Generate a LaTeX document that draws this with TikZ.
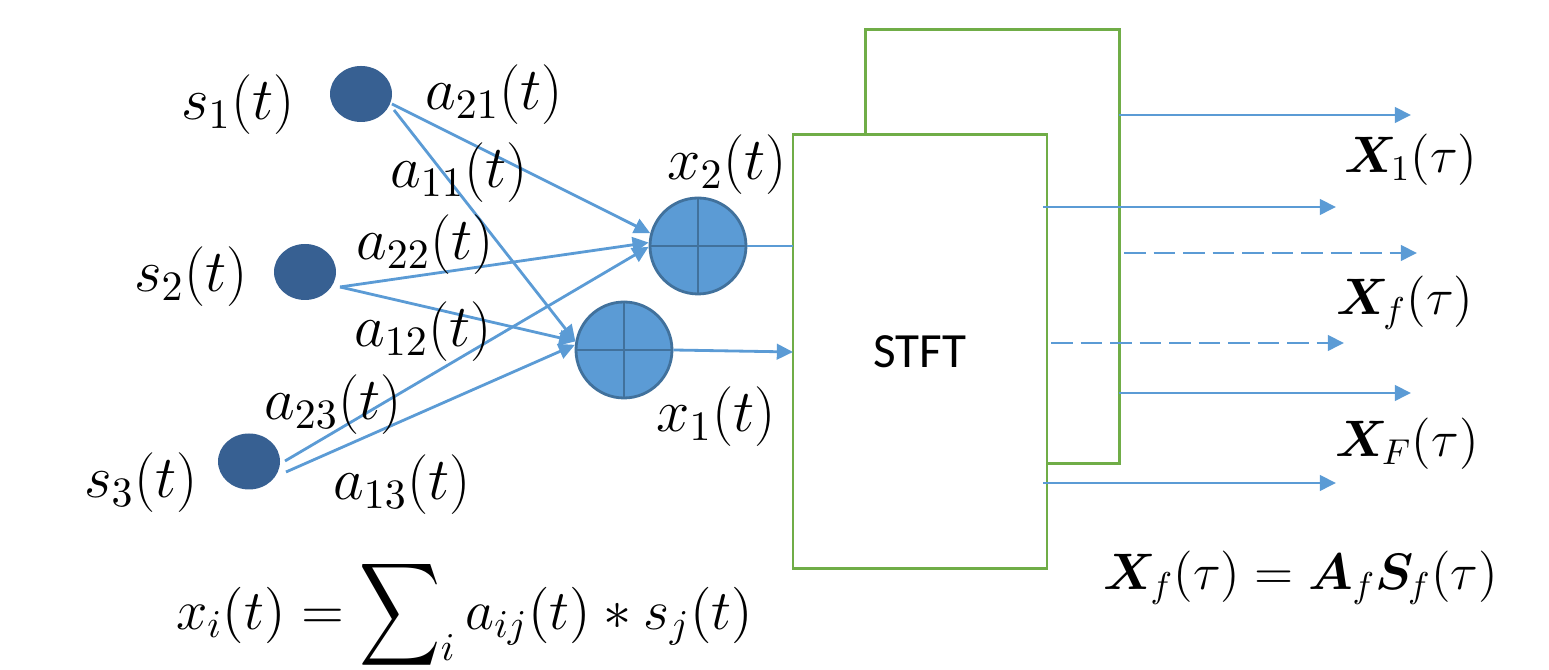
\documentclass[tikz,border=0pt]{standalone}
\usepackage{fix-cm}
\usepackage{amsmath,amssymb}
\usepackage{fontspec}
\usepackage{xcolor}
\usepackage{tikz}
\usetikzlibrary{arrows.meta,shapes.geometric}
\newfontfamily\labelfont{Carlito}
\definecolor{linkblue}{HTML}{5B9BD5}
\definecolor{srcblue}{HTML}{376092}
\definecolor{rimblue}{HTML}{41719C}
\definecolor{boxgreen}{HTML}{70AD47}

\begin{document}
\begin{tikzpicture}[
    arr/.style={-{Triangle[length=4.6pt, width=4.4pt]}, linkblue, line width=0.8pt},
    dasharr/.style={arr, dash pattern=on 6.2pt off 2.2pt},
    src/.style={ellipse, fill=srcblue, inner sep=0pt, minimum width=0.62cm, minimum height=0.56cm},
    adder/.style={circle, fill=linkblue, draw=rimblue, line width=0.8pt, inner sep=0pt, minimum size=0.96cm},
    stftbox/.style={rectangle, draw=boxgreen, fill=white, line width=0.85pt, inner sep=0pt, outer sep=0pt, minimum width=2.54cm, minimum height=4.34cm},
    mathlab/.style={font=\fontsize{17}{20}\selectfont, inner sep=0pt},
    boldlab/.style={font=\fontsize{14.6}{17}\selectfont, inner sep=0pt}
  ]
  \useasboundingbox (0,0) rectangle (15.49,6.70);

  % STFT boxes
  \node[stftbox] (stftback) at (9.925, 4.23) {};
  \node[stftbox, font=\labelfont\fontsize{14}{17}\selectfont] (stft) at (9.20, 3.18) {STFT};

  % Sources and adders
  \node[src] (s1) at (3.61, 5.76) {};
  \node[src] (s2) at (3.05, 3.98) {};
  \node[src] (s3) at (2.49, 2.085) {};
  \node[adder] (add2) at (6.98, 4.24) {};
  \node[adder] (add1) at (6.24, 3.20) {};
  \draw[rimblue, line width=0.8pt] (add2.north) -- (add2.south) (add2.west) -- (add2.east);
  \draw[rimblue, line width=0.8pt] (add1.north) -- (add1.south) (add1.west) -- (add1.east);

  % Free ends of the mixing paths
  \coordinate (s1up)  at (3.92, 5.66);
  \coordinate (s1low) at (3.94, 5.60);
  \coordinate (s2out) at (3.40, 3.83);
  \coordinate (s3up)  at (2.85, 2.09);
  \coordinate (s3low) at (2.86, 1.98);

  % Mixing paths
  \draw[arr] (s1up) -- (add2.165);
  \draw[arr] (s1low) -- (add1.170);
  \draw[arr] (s2out) -- (add2.176);
  \draw[arr] (s2out) -- (add1.170);
  \draw[arr] (s3up) -- (add2.181);
  \draw[arr] (s3low) -- (add1.174);

  % Into the STFT
  \draw[linkblue, line width=0.8pt] (add2.east) -- (add2.east -| stft.west);
  \draw[arr] (add1.east) -- (stft.west);

  % Outputs
  \coordinate (o1a) at (11.19, 5.55);  \coordinate (o1b) at (14.11, 5.55);
  \coordinate (o2a) at (10.43, 4.63);  \coordinate (o2b) at (13.36, 4.63);
  \coordinate (o3a) at (11.24, 4.17);  \coordinate (o3b) at (14.17, 4.17);
  \coordinate (o4a) at (10.51, 3.27);  \coordinate (o4b) at (13.44, 3.27);
  \coordinate (o5a) at (11.19, 2.77);  \coordinate (o5b) at (14.11, 2.77);
  \coordinate (o6a) at (10.43, 1.87);  \coordinate (o6b) at (13.36, 1.87);
  \draw[arr] (o1a) -- (o1b);
  \draw[arr] (o2a) -- (o2b);
  \draw[dasharr] (o3a) -- (o3b);
  \draw[dasharr] (o4a) -- (o4b);
  \draw[arr] (o5a) -- (o5b);
  \draw[arr] (o6a) -- (o6b);

  % Labels
  \node[mathlab] (ls1) at (2.38, 5.65) {$s_1(t)$};
  \node[mathlab] (ls2) at (1.91, 3.93) {$s_2(t)$};
  \node[mathlab] (ls3) at (1.41, 1.87) {$s_3(t)$};
  \node[mathlab] (la21) at (4.94, 5.75) {$a_{21}(t)$};
  \node[mathlab] (la11) at (4.59, 4.97) {$a_{11}(t)$};
  \node[mathlab] (la22) at (4.25, 4.25) {$a_{22}(t)$};
  \node[mathlab] (la12) at (4.23, 3.38) {$a_{12}(t)$};
  \node[mathlab] (la23) at (3.33, 2.65) {$a_{23}(t)$};
  \node[mathlab] (la13) at (4.02, 1.85) {$a_{13}(t)$};
  \node[mathlab] (lx2) at (7.27, 5.05) {$x_2(t)$};
  \node[mathlab] (lx1) at (7.16, 2.53) {$x_1(t)$};

  \node[boldlab] (lX1) at (14.11, 5.10) {$\boldsymbol{X}_{\!1}(\tau)$};
  \node[boldlab] (lXf) at (14.05, 3.67) {$\boldsymbol{X}_{\!f}(\tau)$};
  \node[boldlab] (lXF) at (14.07, 2.26) {$\boldsymbol{X}_{\!F}(\tau)$};
  \node[boldlab] (eqX) at (13.01, 0.92) {$\boldsymbol{X}_{\!f}(\tau)=\boldsymbol{A}_{f}\boldsymbol{S}_{\!f}(\tau)$};
  \node[mathlab, font=\fontsize{16}{19}\selectfont] (eqx) at (4.645, 0.54) {$\displaystyle x_i(t)=\mathop{\vcenter{\hbox{\scalebox{1}[1.28]{$\displaystyle\sum$}}}}\nolimits_{\raisebox{4pt}{$\scriptstyle i$}} a_{ij}(t)*s_j(t)$};
\end{tikzpicture}
\end{document}
